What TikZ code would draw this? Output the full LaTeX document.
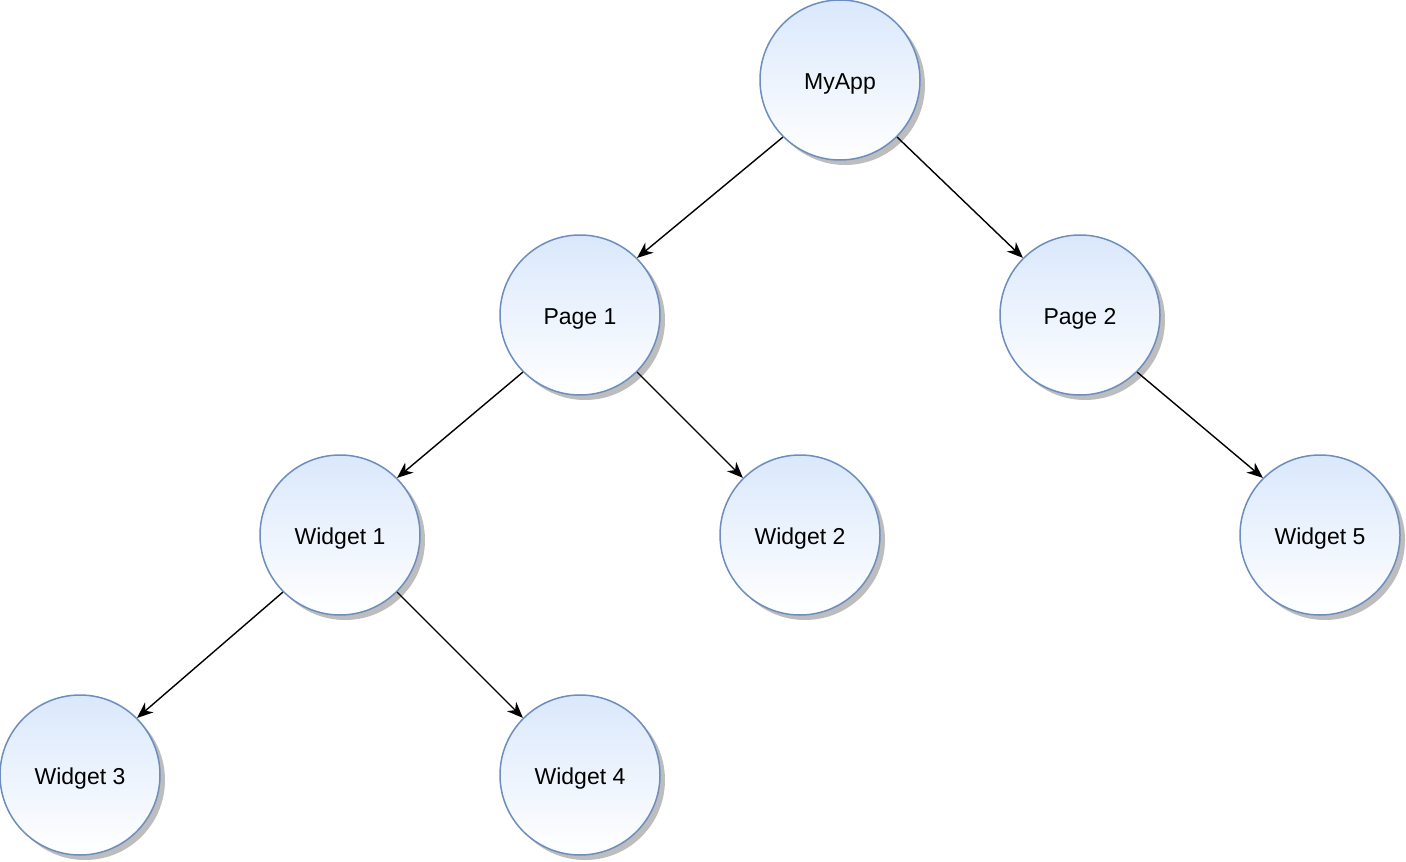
\documentclass[tikz,border=0pt]{standalone}
\usepackage{fontspec}
\setmainfont{Liberation Sans}
\usepackage{xcolor}
\usetikzlibrary{arrows.meta,shadows}
\definecolor{nodetop}{HTML}{DAE8FC}
\definecolor{nodeline}{HTML}{6C8EBF}
\definecolor{shade}{HTML}{BDBDBD}
\tikzset{
  comp/.style={circle, draw=nodeline, line width=1.5pt, top color=nodetop, bottom color=white,
    minimum size=160pt, inner sep=0pt, font=\fontsize{23}{26}\selectfont,
    text height=18pt, text depth=0pt,
    drop shadow={shadow xshift=5pt, shadow yshift=-5pt, fill=shade, opacity=1}},
  link/.style={draw=black, line width=1.4pt, -{Stealth[length=16pt, width=13pt, inset=5pt]}},
}
\begin{document}
\begin{tikzpicture}[x=1pt, y=-1pt]
  \useasboundingbox (0,0) rectangle (1406,862);
  \node[comp] (myapp) at (840,80) {MyApp};
  \node[comp] (page1) at (580,315) {Page 1};
  \node[comp] (page2) at (1080,315) {Page 2};
  \node[comp] (w1) at (340,535) {Widget 1};
  \node[comp] (w2) at (800,535) {Widget 2};
  \node[comp] (w5) at (1320,535) {Widget 5};
  \node[comp] (w3) at (80,775) {Widget 3};
  \node[comp] (w4) at (580,775) {Widget 4};

  \draw[link] (myapp.south west) -- (page1.north east);
  \draw[link] (myapp.south east) -- (page2.north west);
  \draw[link] (page1.south west) -- (w1.north east);
  \draw[link] (page1.south east) -- (w2.north west);
  \draw[link] (page2.south east) -- (w5.north west);
  \draw[link] (w1.south west) -- (w3.north east);
  \draw[link] (w1.south east) -- (w4.north west);
\end{tikzpicture}
\end{document}
